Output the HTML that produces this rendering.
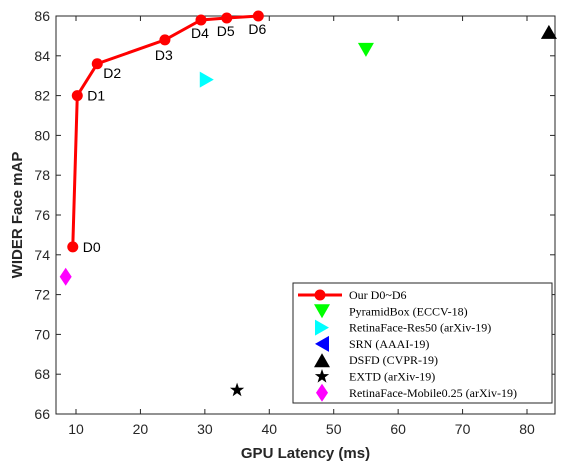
<!DOCTYPE html>
<html><head><meta charset="utf-8"><style>
body{margin:0;background:#fff;width:574px;height:466px;overflow:hidden}
text{font-family:"Liberation Sans",Arial,sans-serif}
</style></head><body>
<svg id="chart" width="574" height="466"></svg>
<script>
const ourLabels=["D0","D1","D2","D3","D4","D5","D6"];
const ourX=[9.5,10.2,13.3,23.8,29.4,33.4,38.3];
const ourY=[74.4,82.0,83.6,84.8,85.8,85.9,86.0];
const otherNames=["PyramidBox (ECCV-18)","RetinaFace-Res50 (arXiv-19)","SRN (AAAI-19)","DSFD (CVPR-19)","EXTD (arXiv-19)","RetinaFace-Mobile0.25 (arXiv-19)"];
const otherX=[55,30.3,null,83.4,35,8.4];
const otherY=[84.3,82.8,null,85.2,67.2,72.9];
const xTicks=[10,20,30,40,50,60,70,80];
const yTicks=[66,68,70,72,74,76,78,80,82,84,86];
const NS="http://www.w3.org/2000/svg";
const svg=document.getElementById('chart');
const L=56,R=555,T=16,B=414;
const sx=v=>76+(v-10)*(527-76)/70;
const sy=v=>B-(v-66)*(B-T)/20;
function el(t,a,p){const e=document.createElementNS(NS,t);for(const k in a)e.setAttribute(k,a[k]);(p||svg).appendChild(e);return e;}
const box=el('rect',{x:L,y:T,width:R-L,height:B-T,fill:'none',stroke:'#262626','stroke-width':1});

xTicks.forEach(v=>{const x=sx(v);
el('line',{x1:x,x2:x,y1:B,y2:B-5,stroke:'#262626'});el('line',{x1:x,x2:x,y1:T,y2:T+5,stroke:'#262626'});
const t=el('text',{x:x,y:B+20,'text-anchor':'middle','font-size':14,fill:'#262626'});t.textContent=v;
});
yTicks.forEach(v=>{const y=sy(v);
el('line',{x1:L,x2:L+5,y1:y,y2:y,stroke:'#262626'});el('line',{x1:R,x2:R-5,y1:y,y2:y,stroke:'#262626'});
const t=el('text',{x:L-6,y:y+5,'text-anchor':'end','font-size':14,fill:'#262626'});t.textContent=v;
});
const xt=el('text',{x:(L+R)/2,y:458,'text-anchor':'middle','font-size':15,'font-weight':'bold',fill:'#262626'});xt.textContent='GPU Latency (ms)';

const yt=el('text',{x:0,y:0,transform:`translate(22,${(T+B)/2}) rotate(-90)`,'text-anchor':'middle','font-size':15,'font-weight':'bold',fill:'#262626'});yt.textContent='WIDER Face mAP';

const line=el('polyline',{points:ourX.map((x,i)=>sx(x)+','+sy(ourY[i])).join(' '),fill:'none',stroke:'#f00','stroke-width':3});

ourX.forEach((x,i)=>{const c=el('circle',{cx:sx(x),cy:sy(ourY[i]),r:5.5,fill:'#f00'});

const dy=i==0?5:(i>=4?18:(i==3?20:(i==2?14:5)));const dx=i==0||i==1?10:(i==2?6:(i>=3?-10:0));
const t=el('text',{x:sx(x)+dx,y:sy(ourY[i])+dy,'font-size':14,fill:'#000'});t.textContent=ourLabels[i];
});
function marker(k,cx,cy,parent){let m;
if(k==0)m=el('polygon',{points:`${cx-8},${cy-7} ${cx+8},${cy-7} ${cx},${cy+7}`,fill:'#0f0'},parent);
if(k==1)m=el('polygon',{points:`${cx-7},${cy-8} ${cx+7},${cy} ${cx-7},${cy+8}`,fill:'#0ff'},parent);
if(k==2)m=el('polygon',{points:`${cx+7},${cy-8} ${cx-7},${cy} ${cx+7},${cy+8}`,fill:'#00f'},parent);
if(k==3)m=el('polygon',{points:`${cx-8},${cy+7} ${cx+8},${cy+7} ${cx},${cy-7}`,fill:'#000'},parent);
if(k==4){let p=[];for(let i=0;i<10;i++){const r=i%2?3:7.5,a=-Math.PI/2+i*Math.PI/5;p.push((cx+r*Math.cos(a))+','+(cy+r*Math.sin(a)));}m=el('polygon',{points:p.join(' '),fill:'#000'},parent);}
if(k==5)m=el('polygon',{points:`${cx},${cy-9} ${cx+6},${cy} ${cx},${cy+9} ${cx-6},${cy}`,fill:'#f0f'},parent);
return m;}
otherX.forEach((x,k)=>{if(x==null)return;const m=marker(k,sx(x),sy(otherY[k]));
});
const lg=el('g',{});
el('rect',{x:293,y:283,width:259,height:120,fill:'#fff',stroke:'#262626'},lg);
const rowY=i=>295+i*16.3;
el('line',{x1:298,x2:342,y1:rowY(0),y2:rowY(0),stroke:'#f00','stroke-width':3},lg);
el('circle',{cx:320,cy:rowY(0),r:5.5,fill:'#f00'},lg);
const names=["Our D0~D6"].concat(otherNames);
names.forEach((n,i)=>{if(i>0)marker(i-1,322,rowY(i),lg);
const t=el('text',{x:349,y:rowY(i)+4,'font-size':12,fill:'#000',style:'font-family:"Liberation Serif",serif'},lg);t.textContent=n;
});
</script>
</body></html>
